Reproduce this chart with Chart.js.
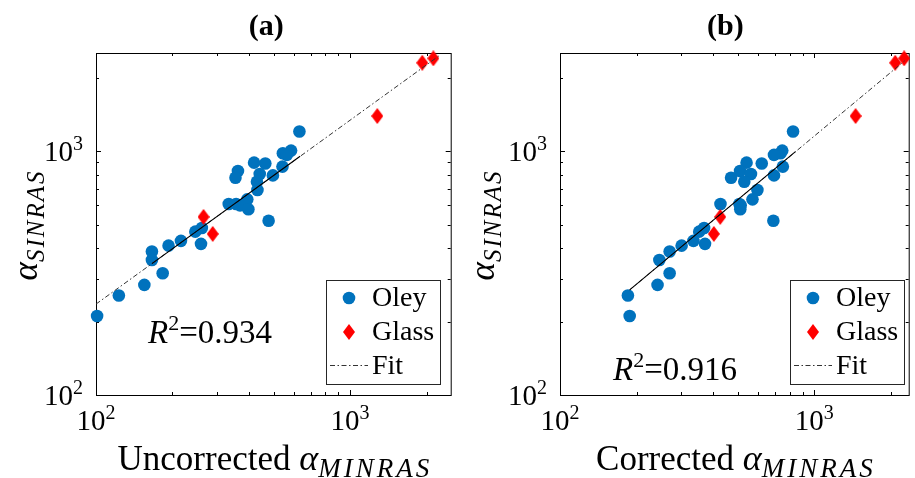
<!DOCTYPE html>
<html>
<head>
<meta charset="utf-8">
<script src="https://cdn.jsdelivr.net/npm/chart.js"></script>
<style>
  body { margin: 0; background: #fff; }
  canvas { position: absolute; top: 0; }
  #chartA { left: 0; }
  #chartB { left: 457px; }
</style>
</head>
<body>
<canvas id="chartA" width="457" height="478"></canvas>
<canvas id="chartB" width="458" height="478"></canvas>
<script>
// alpha_SINRAS of the Oley samples (shared by both panels)
const oleySinras = [1205, 1006, 981, 966, 898, 891, 865, 830, 807, 796, 779, 750, 694, 635, 608,
  608, 600, 578, 519, 468, 484, 429, 417, 410, 388, 358, 316, 283, 256, 211];
// alpha_MINRAS before and after correction
const oleyUncorrected = [632, 586, 544, 564, 419, 464, 542, 362, 441, 497, 354, 430, 432, 394, 333,
  356, 369, 398, 478, 246, 261, 216, 259, 193, 166, 166, 183, 155, 123, 101];
const oleyCorrected = [826, 749, 737, 695, 542, 622, 753, 511, 564, 695, 471, 531, 598, 572, 428,
  508, 514, 512, 691, 353, 369, 335, 372, 301, 270, 246, 270, 242, 185, 188];

const glassSinras = [538, 458, 1395, 2307, 2405];
const glassUncorrected = [265, 288, 1280, 1925, 2127];
const glassCorrected = [427, 403, 1456, 2084, 2260];

// fit lines: full dash-dot extent and the solid part
const fitA_x = [100, 2260], fitA_y = [236, 2480];
const fitSolidA_x = [166, 636], fitSolidA_y = [346, 954];
const fitB_x = [188, 2270], fitB_y = [270, 2350];
const fitSolidB_x = [188, 844], fitSolidB_y = [270, 996];

const r2Values = ['0.934', '0.916'];
const seriesNames = ['Oley', 'Glass', 'Fit'];
const tickValues = [100, 1000];
const tickBase = ['10', '10'];
const tickExp = ['2', '3'];

const SERIF = '"Liberation Serif", "Times New Roman", serif';
const BLUE = '#0072BD';
const RED = '#FF0000';

function diamondImage(w, h, color) {
  const c = document.createElement('canvas');
  c.width = w; c.height = h;
  const g = c.getContext('2d');
  g.fillStyle = color;
  g.beginPath();
  g.moveTo(w / 2, 0); g.lineTo(w, h / 2); g.lineTo(w / 2, h); g.lineTo(0, h / 2);
  g.closePath(); g.fill();
  return c;
}
const diamond = diamondImage(12, 16, RED);

const pts = (xs, ys) => xs.map((x, i) => ({ x, y: ys[i] }));

function runWidth(ctx, r) {
  ctx.font = r.font;
  if (!r.spacing) return ctx.measureText(r.text).width;
  let w = 0;
  for (const ch of r.text) w += ctx.measureText(ch).width + r.spacing;
  return w - r.spacing;
}

// draws a row of text pieces with their own fonts / offsets
function drawRuns(ctx, runs, x, y, align) {
  const widths = runs.map(r => runWidth(ctx, r));
  const total = widths.reduce((s, w) => s + w, 0);
  let cx = align === 'center' ? x - total / 2 : align === 'right' ? x - total : x;
  ctx.textAlign = 'left';
  ctx.textBaseline = 'alphabetic';
  runs.forEach((r, i) => {
    ctx.font = r.font;
    const yy = y + (r.dy || 0);
    if (r.spacing) {
      let px = cx;
      for (const ch of r.text) {
        ctx.fillText(ch, px, yy);
        px += ctx.measureText(ch).width + r.spacing;
      }
    } else {
      ctx.fillText(r.text, cx, yy);
    }
    cx += widths[i];
  });
}

function logTicks(min, max) {
  const out = [];
  for (let e = Math.floor(Math.log10(min)); e <= Math.ceil(Math.log10(max)); e++) {
    for (let m = 1; m <= 9; m++) {
      const v = m * Math.pow(10, e);
      if (v > min * 1.001 && v < max * 0.999) out.push({ v, major: m === 1 });
    }
  }
  return out;
}

// box, inward ticks on all four sides
const framePlugin = {
  id: 'frame',
  beforeDatasetsDraw(chart) {
    const { ctx, chartArea: a, scales: { x, y } } = chart;
    ctx.save();
    ctx.strokeStyle = '#000';
    ctx.lineWidth = 1;
    ctx.beginPath();
    for (const t of logTicks(x.min, x.max)) {
      const px = Math.round(x.getPixelForValue(t.v)) + 0.5;
      const len = t.major ? 5 : 3;
      ctx.moveTo(px, a.bottom); ctx.lineTo(px, a.bottom - len);
      ctx.moveTo(px, a.top); ctx.lineTo(px, a.top + len);
    }
    for (const t of logTicks(y.min, y.max)) {
      const py = Math.round(y.getPixelForValue(t.v)) + 0.5;
      const len = t.major ? 5 : 3;
      ctx.moveTo(a.left, py); ctx.lineTo(a.left + len, py);
      ctx.moveTo(a.right, py); ctx.lineTo(a.right - len, py);
    }
    ctx.stroke();
    ctx.strokeRect(a.left + 0.5, a.top + 0.5, a.right - a.left, a.bottom - a.top);
    ctx.restore();
  }
};

// tick labels, titles, R^2 note and legend
const textPlugin = {
  id: 'texts',
  afterDraw(chart) {
    const p = chart.options.plugins.texts;
    const { ctx, chartArea: a, scales: { x, y } } = chart;
    const cxPlot = (a.left + a.right) / 2;
    const cyPlot = (a.top + a.bottom) / 2;
    ctx.save();
    ctx.fillStyle = '#000';

    tickValues.forEach((v, i) => {
      const runs = [
        { text: tickBase[i], font: `29px ${SERIF}` },
        { text: tickExp[i], font: `20px ${SERIF}`, dy: -11 }
      ];
      if (v >= x.min && v <= x.max) drawRuns(ctx, runs, x.getPixelForValue(v), a.bottom + 35, 'center');
      if (v >= y.min && v <= y.max) drawRuns(ctx, runs, a.left - 13, y.getPixelForValue(v) + 10, 'right');
    });

    ctx.font = `bold 30px ${SERIF}`;
    ctx.textAlign = 'center';
    ctx.fillText(p.title, cxPlot + p.titleShift, 35);

    drawRuns(ctx, [
      { text: p.xTitle, font: `35px ${SERIF}` },
      { text: 'α', font: `italic 36px ${SERIF}` },
      { text: 'MINRAS', font: `italic 27px ${SERIF}`, dy: 6.5, spacing: 3 }
    ], cxPlot, a.bottom + 75, 'center');

    ctx.save();
    ctx.translate(37, cyPlot + 2);
    ctx.rotate(-Math.PI / 2);
    drawRuns(ctx, [
      { text: 'α', font: `italic 35px ${SERIF}` },
      { text: 'SINRAS', font: `italic 25px ${SERIF}`, dy: 6.5, spacing: 2 }
    ], 0, 0, 'center');
    ctx.restore();

    drawRuns(ctx, [
      { text: 'R', font: `italic 33px ${SERIF}` },
      { text: '2', font: `22px ${SERIF}`, dy: -13 },
      { text: '=' + p.r2, font: `33px ${SERIF}` }
    ], a.left + p.r2Pos[0], a.bottom + p.r2Pos[1], 'left');

    // legend
    const bx = Math.round(a.right + p.legendPos[0]);
    const by = Math.round(a.bottom + p.legendPos[1]);
    ctx.strokeStyle = '#262626';
    ctx.lineWidth = 1;
    ctx.strokeRect(bx + 0.5, by + 0.5, 114, 104);
    ctx.fillStyle = BLUE;
    ctx.beginPath();
    ctx.arc(bx + 23, by + 18, 6.3, 0, Math.PI * 2);
    ctx.fill();
    ctx.drawImage(diamond, bx + 23 - 6, by + 52 - 8);
    ctx.strokeStyle = '#333';
    ctx.setLineDash([5, 2.5, 1.5, 2.5]);
    ctx.beginPath();
    ctx.moveTo(bx + 4, by + 85.5); ctx.lineTo(bx + 42, by + 85.5);
    ctx.stroke();
    ctx.setLineDash([]);
    ctx.fillStyle = '#000';
    ctx.font = `28px ${SERIF}`;
    ctx.textAlign = 'left';
    seriesNames.forEach((name, i) => ctx.fillText(name, bx + 46, by + 25.5 + i * 34));
    ctx.restore();
  }
};

function buildPanel(id, cfg) {
  const canvas = document.getElementById(id);
  const W = canvas.width, H = canvas.height;
  return new Chart(canvas, {
    type: 'scatter',
    data: {
      datasets: [
        { data: pts(cfg.solidX, cfg.solidY), showLine: true, pointRadius: 0, borderColor: '#000',
          borderWidth: 1.1, order: 0 },
        { data: pts(cfg.fitX, cfg.fitY), showLine: true, pointRadius: 0, borderColor: '#333',
          borderWidth: 1, borderDash: [5, 2.5, 1.5, 2.5], order: 1 },
        { data: pts(cfg.glassX, glassSinras), pointStyle: diamond, backgroundColor: RED,
          borderWidth: 0, clip: false, order: 2 },
        { data: pts(cfg.oleyX, oleySinras), pointStyle: 'circle', pointRadius: 6.3,
          backgroundColor: BLUE, borderWidth: 0, clip: false, order: 3 }
      ]
    },
    options: {
      responsive: false,
      animation: false,
      layout: { padding: { top: 53, right: W - cfg.plotRight, bottom: 0, left: 0 } },
      scales: {
        x: {
          type: 'logarithmic', min: 100, max: cfg.xMax,
          grid: { display: false }, border: { display: false }, ticks: { display: false },
          afterFit: s => { s.height = H - 395; }
        },
        y: {
          type: 'logarithmic', min: 100, max: 2530,
          grid: { display: false }, border: { display: false }, ticks: { display: false },
          afterFit: s => { s.width = cfg.plotLeft; }
        }
      },
      plugins: {
        legend: { display: false },
        tooltip: { enabled: false },
        texts: cfg.texts
      }
    },
    plugins: [framePlugin, textPlugin]
  });
}

buildPanel('chartA', {
  oleyX: oleyUncorrected, glassX: glassUncorrected,
  fitX: fitA_x, fitY: fitA_y, solidX: fitSolidA_x, solidY: fitSolidA_y,
  plotLeft: 96, plotRight: 451, xMax: 2490,
  texts: { title: '(a)', titleShift: -7, xTitle: 'Uncorrected ', r2: r2Values[0],
    r2Pos: [52, -52.5], legendPos: [-125, -115] }
});

buildPanel('chartB', {
  oleyX: oleyCorrected, glassX: glassCorrected,
  fitX: fitB_x, fitY: fitB_y, solidX: fitSolidB_x, solidY: fitSolidB_y,
  plotLeft: 103, plotRight: 456, xMax: 2355,
  texts: { title: '(b)', titleShift: -9, xTitle: 'Corrected ', r2: r2Values[1],
    r2Pos: [53, -15], legendPos: [-119, -115] }
});
</script>
</body>
</html>
